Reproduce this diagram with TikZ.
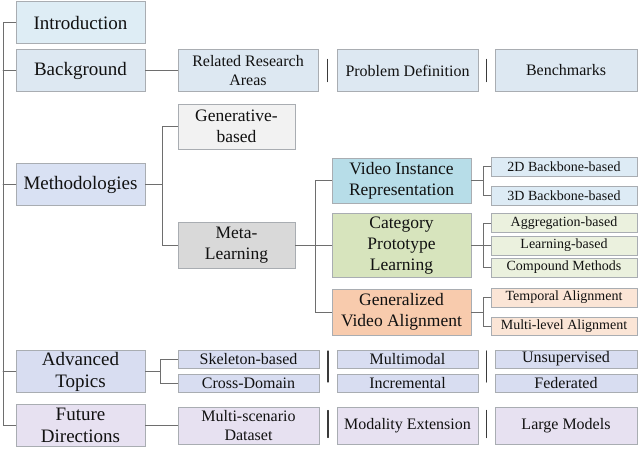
\documentclass[tikz,border=0pt]{standalone}
\usepackage{fontspec}
\setmainfont{Liberation Serif}
\usetikzlibrary{calc,positioning}
\usepackage{xcolor}
\definecolor{fsInk}{HTML}{111111}
\definecolor{fsEdge}{HTML}{A9ADB2}
\definecolor{fsLine}{HTML}{6E6E6E}
\definecolor{fsSep}{HTML}{3A3A3A}
\definecolor{fsIntro}{HTML}{DEEDF5}
\definecolor{fsBack}{HTML}{DDE8F2}
\definecolor{fsMeth}{HTML}{D9E1F3}
\definecolor{fsGen}{HTML}{F2F2F2}
\definecolor{fsMeta}{HTML}{D9D9D9}
\definecolor{fsVir}{HTML}{B7DDE8}
\definecolor{fsVirL}{HTML}{DDEBF5}
\definecolor{fsCpl}{HTML}{D7E4BD}
\definecolor{fsCplL}{HTML}{EBF1DE}
\definecolor{fsGva}{HTML}{F8CBAD}
\definecolor{fsGvaL}{HTML}{FBE5D6}
\definecolor{fsAdv}{HTML}{D8DDF1}
\definecolor{fsFut}{HTML}{E7E1F1}

\begin{document}
\begin{tikzpicture}[x=1pt, y=-1pt, line cap=round, text=fsInk,
  box/.style={draw=fsEdge, line width=0.9pt, inner sep=0pt, align=center},
  topbox/.style={box, minimum width=129pt, minimum height=42pt,
                 font=\fontsize{19}{22}\selectfont},
  midbox/.style={box, minimum width=141pt, minimum height=42pt,
                 font=\fontsize{16}{19}\selectfont},
  methbox/.style={box, minimum width=139pt, minimum height=45pt,
                  font=\fontsize{17.5}{21}\selectfont},
  leafbox/.style={box, minimum width=146pt, minimum height=19pt,
                  font=\fontsize{14}{16}\selectfont},
  thinbox/.style={box, minimum width=141pt, minimum height=18pt,
                  font=\fontsize{16}{18}\selectfont},
  link/.style={draw=fsLine, line width=0.9pt},
  sepline/.style={draw=fsSep, line width=1.2pt}]

\useasboundingbox (0,0) rectangle (640,448);

% --- top level ---
\node[topbox, fill=fsIntro] (intro) at (80.5,22.5) {Introduction};
\node[topbox, fill=fsBack]  (bg)    at (80.5,70.5) {Background};
\node[topbox, fill=fsMeth]  (meth)  at (80.5,184.5) {Methodologies};
\node[topbox, fill=fsAdv]   (adv)   at (80.5,371.5) {Advanced\\Topics};
\node[topbox, fill=fsFut]   (fut)   at (80.5,425.5) {Future\\Directions};

\coordinate (trunk) at (3,0);
\draw[link] (intro.west) -- (intro.west -| trunk) -- (fut.west -| trunk) -- (fut.west);
\foreach \n in {bg, meth, adv}
  \draw[link] (\n.west) -- (\n.west -| trunk);

% --- background row ---
\node[midbox, fill=fsBack, minimum width=140pt] (rel) at (248,70.5) {Related Research\\Areas};
\node[midbox, fill=fsBack] (prob)  at (407.5,70.5) {Problem Definition};
\node[midbox, fill=fsBack, minimum width=142pt] (bench) at (566,70.5) {Benchmarks};
\draw[link] (bg.east) -- (rel.west);

% --- methodologies ---
\node[methbox, fill=fsGen,  minimum width=117pt] (gen)  at (236.5,126.5) {Generative-\\based};
\node[methbox, fill=fsMeta, minimum width=117pt, minimum height=46pt] (meta) at (236.5,245) {Meta-\\Learning};
\coordinate (mx) at (162,0);
\draw[link] (meth.east) -- (meth.east -| mx);
\draw[link] (gen.west) -- (gen.west -| mx) -- (meta.west -| mx) -- (meta.west);

\node[methbox, fill=fsVir] (vir) at (401.5,180.5) {Video Instance\\Representation};
\node[methbox, fill=fsCpl, minimum height=64pt] (cpl) at (401.5,245.5) {Category\\Prototype\\Learning};
\node[methbox, fill=fsGva, minimum height=46pt] (gva) at (401.5,312) {Generalized\\Video Alignment};
\coordinate (lx) at (315,0);
\draw[link] (meta.east) -- (meta.east -| lx);
\draw[link] (vir.west) -- (vir.west -| lx) -- (gva.west -| lx) -- (gva.west);
\draw[link] (cpl.west) -- (cpl.west -| lx);

% --- leaves ---
\coordinate (bx) at (483,0);
\node[leafbox, fill=fsVirL] (bb2) at (564,166.5) {2D Backbone-based};
\node[leafbox, fill=fsVirL] (bb3) at (564,195.5) {3D Backbone-based};
\draw[link] (vir.east) -- (vir.east -| bx);
\draw[link] (bb2.west) -- (bb2.west -| bx) -- (bb3.west -| bx) -- (bb3.west);

\node[leafbox, fill=fsCplL] (agg)  at (564,223) {Aggregation-based};
\node[leafbox, fill=fsCplL] (lrn)  at (564,245.5) {Learning-based};
\node[leafbox, fill=fsCplL] (comp) at (564,267.5) {Compound Methods};
\draw[link] (cpl.east) -- (lrn.west);
\draw[link] (agg.west) -- (agg.west -| bx) -- (comp.west -| bx) -- (comp.west);

\node[leafbox, fill=fsGvaL] (temp) at (564,297.5) {Temporal Alignment};
\node[leafbox, fill=fsGvaL, minimum height=18pt] (mlv) at (564,326) {Multi-level Alignment};
\draw[link] (gva.east) -- (gva.east -| bx);
\draw[link] (temp.west) -- (temp.west -| bx) -- (mlv.west -| bx) -- (mlv.west);

% --- advanced topics ---
\node[thinbox, fill=fsAdv] (skel)  at (248.5,359) {Skeleton-based};
\node[thinbox, fill=fsAdv] (cross) at (248.5,383) {Cross-Domain};
\node[thinbox, fill=fsAdv] (mmod)  at (407.5,359) {Multimodal};
\node[thinbox, fill=fsAdv] (incr)  at (407.5,383) {Incremental};
\node[thinbox, fill=fsAdv, minimum width=142pt] (unsup) at (566,359) {Unsupervised};
\node[thinbox, fill=fsAdv, minimum width=142pt] (fed)   at (566,383) {Federated};
\coordinate (ax) at (160,0);
\draw[link] (adv.east) -- (adv.east -| ax);
\draw[link] (skel.west) -- (skel.west -| ax) -- (cross.west -| ax) -- (cross.west);

% --- future directions ---
\node[midbox, fill=fsFut, minimum height=37pt] (msd)  at (248.5,425.5) {Multi-scenario\\Dataset};
\node[midbox, fill=fsFut, minimum height=37pt] (mext) at (407.5,425.5) {Modality Extension};
\node[midbox, fill=fsFut, minimum height=37pt, minimum width=142pt] (large) at (566,425.5) {Large Models};
\draw[link] (fut.east) -- (msd.west);

% --- separators ---
\draw[sepline] ($(rel.east)!0.5!(prob.west)$)    +(0,-11) -- +(0,11);
\draw[sepline] ($(prob.east)!0.5!(bench.west)$)  +(0,-11) -- +(0,11);
\draw[sepline] ($(skel.east)!0.5!(mmod.west)$)   +(0,-8) -- +(0,23);
\draw[sepline] ($(mmod.east)!0.5!(unsup.west)$)  +(0,-8) -- +(0,23);
\draw[sepline] ($(msd.east)!0.5!(mext.west)$)    +(0,-15) -- +(0,12);
\draw[sepline] ($(mext.east)!0.5!(large.west)$)  +(0,-15) -- +(0,12);

\end{tikzpicture}
\end{document}
